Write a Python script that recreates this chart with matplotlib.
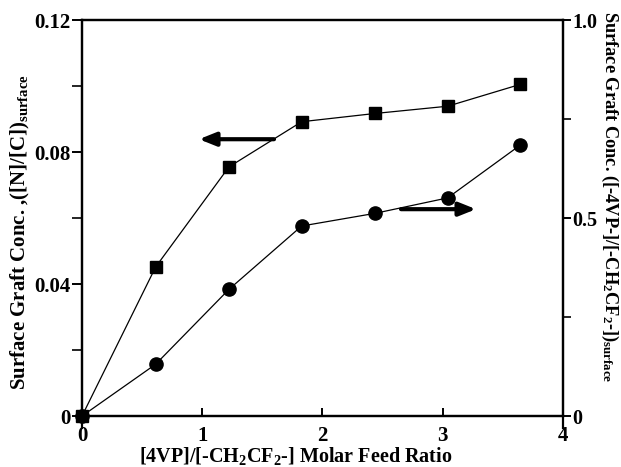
import numpy as np
import matplotlib
matplotlib.use("Agg")
import matplotlib.pyplot as plt

# data
feed_ratio = [0.0, 0.613, 1.222, 1.827, 2.437, 3.041, 3.643]
n_c_ratio = [0.0, 0.0452, 0.0755, 0.0892, 0.0917, 0.0939, 0.1005]
vp_ratio = [0.0, 0.131, 0.320, 0.480, 0.512, 0.551, 0.684]

x_ticks = [0, 1, 2, 3, 4]
left_ticks = [0, 0.04, 0.08, 0.12]
left_labels = ["0", "0.04", "0.08", "0.12"]
right_ticks = [0, 0.5, 1.0]
right_labels = ["0", "0.5", "1.0"]

plt.rcParams["font.family"] = "Liberation Serif"
plt.rcParams["font.weight"] = "bold"
plt.rcParams["mathtext.fontset"] = "custom"
plt.rcParams["mathtext.rm"] = "Liberation Serif:bold"
plt.rcParams["mathtext.it"] = "Liberation Serif:bold"
plt.rcParams["mathtext.bf"] = "Liberation Serif:bold"
plt.rcParams["mathtext.default"] = "rm"

fig = plt.figure(figsize=(6.21, 4.67), dpi=100)
ax = fig.add_axes([0.132, 0.109, 0.7746, 0.848])
ax2 = ax.twinx()

ax.plot(feed_ratio, n_c_ratio, "-", color="black", lw=0.9,
        marker="s", ms=8, mfc="black", mec="black", clip_on=False, zorder=3)
ax2.plot(feed_ratio, vp_ratio, "-", color="black", lw=0.9,
         marker="o", ms=9.5, mfc="black", mec="black", clip_on=False, zorder=3)

ax.set_xlim(0, 4)
ax.set_ylim(0, 0.12)
ax2.set_ylim(0, 1.0)

ax.set_xticks(x_ticks)
ax.set_xticklabels([str(t) for t in x_ticks])
ax.set_yticks(left_ticks)
ax.set_yticklabels(left_labels)
ax.set_yticks([0.02, 0.06, 0.10], minor=True)
ax2.set_yticks(right_ticks)
ax2.set_yticklabels(right_labels)
ax2.set_yticks([0.25, 0.75], minor=True)

for a in (ax, ax2):
    for s in a.spines.values():
        s.set_linewidth(1.6)
# the vertical spines run a little below the x axis in the original
ax.spines["left"].set_bounds(-0.0036, 0.12)
ax2.spines["right"].set_bounds(-0.03, 1.0)

ax.tick_params(axis="x", direction="in", length=6, width=1.4, labelsize=15, pad=7)
ax.tick_params(axis="y", direction="out", length=7, width=1.4, labelsize=15, pad=1)
ax.tick_params(axis="y", which="minor", direction="out", length=7, width=1.2)
ax2.tick_params(axis="y", direction="out", length=6, width=1.4, labelsize=14.5, pad=0.5)
ax2.tick_params(axis="y", which="minor", direction="out", length=6, width=1.2)

fig.text(296 / 621, 1 - 456 / 467, "[4VP]/[-CH$_2$CF$_2$-] Molar Feed Ratio",
         fontsize=14.5, fontweight="bold", ha="center", va="center")
fig.text(20 / 621, 1 - 232 / 467, "Surface Graft Conc. ,([N]/[C])$_{surface}$",
         fontsize=15, fontweight="bold", rotation=90, ha="center", va="center")
fig.text(610 / 621, 1 - 197 / 467, "Surface Graft Conc. ([-4VP-]/[-CH$_2$CF$_2$-])$_{surface}$",
         fontsize=13.2, fontweight="bold", rotation=270, ha="center", va="center")

# direction arrows
arrow = dict(arrowstyle="-|>,head_length=1.0,head_width=0.4", color="black",
             lw=3, shrinkA=0, shrinkB=0)
ax.annotate("", xy=(0.973, 0.0839), xytext=(1.597, 0.0839), arrowprops=arrow)
ax.annotate("", xy=(3.277, 0.0627), xytext=(2.653, 0.0627), arrowprops=arrow)

fig.savefig("out.png", dpi=100)
